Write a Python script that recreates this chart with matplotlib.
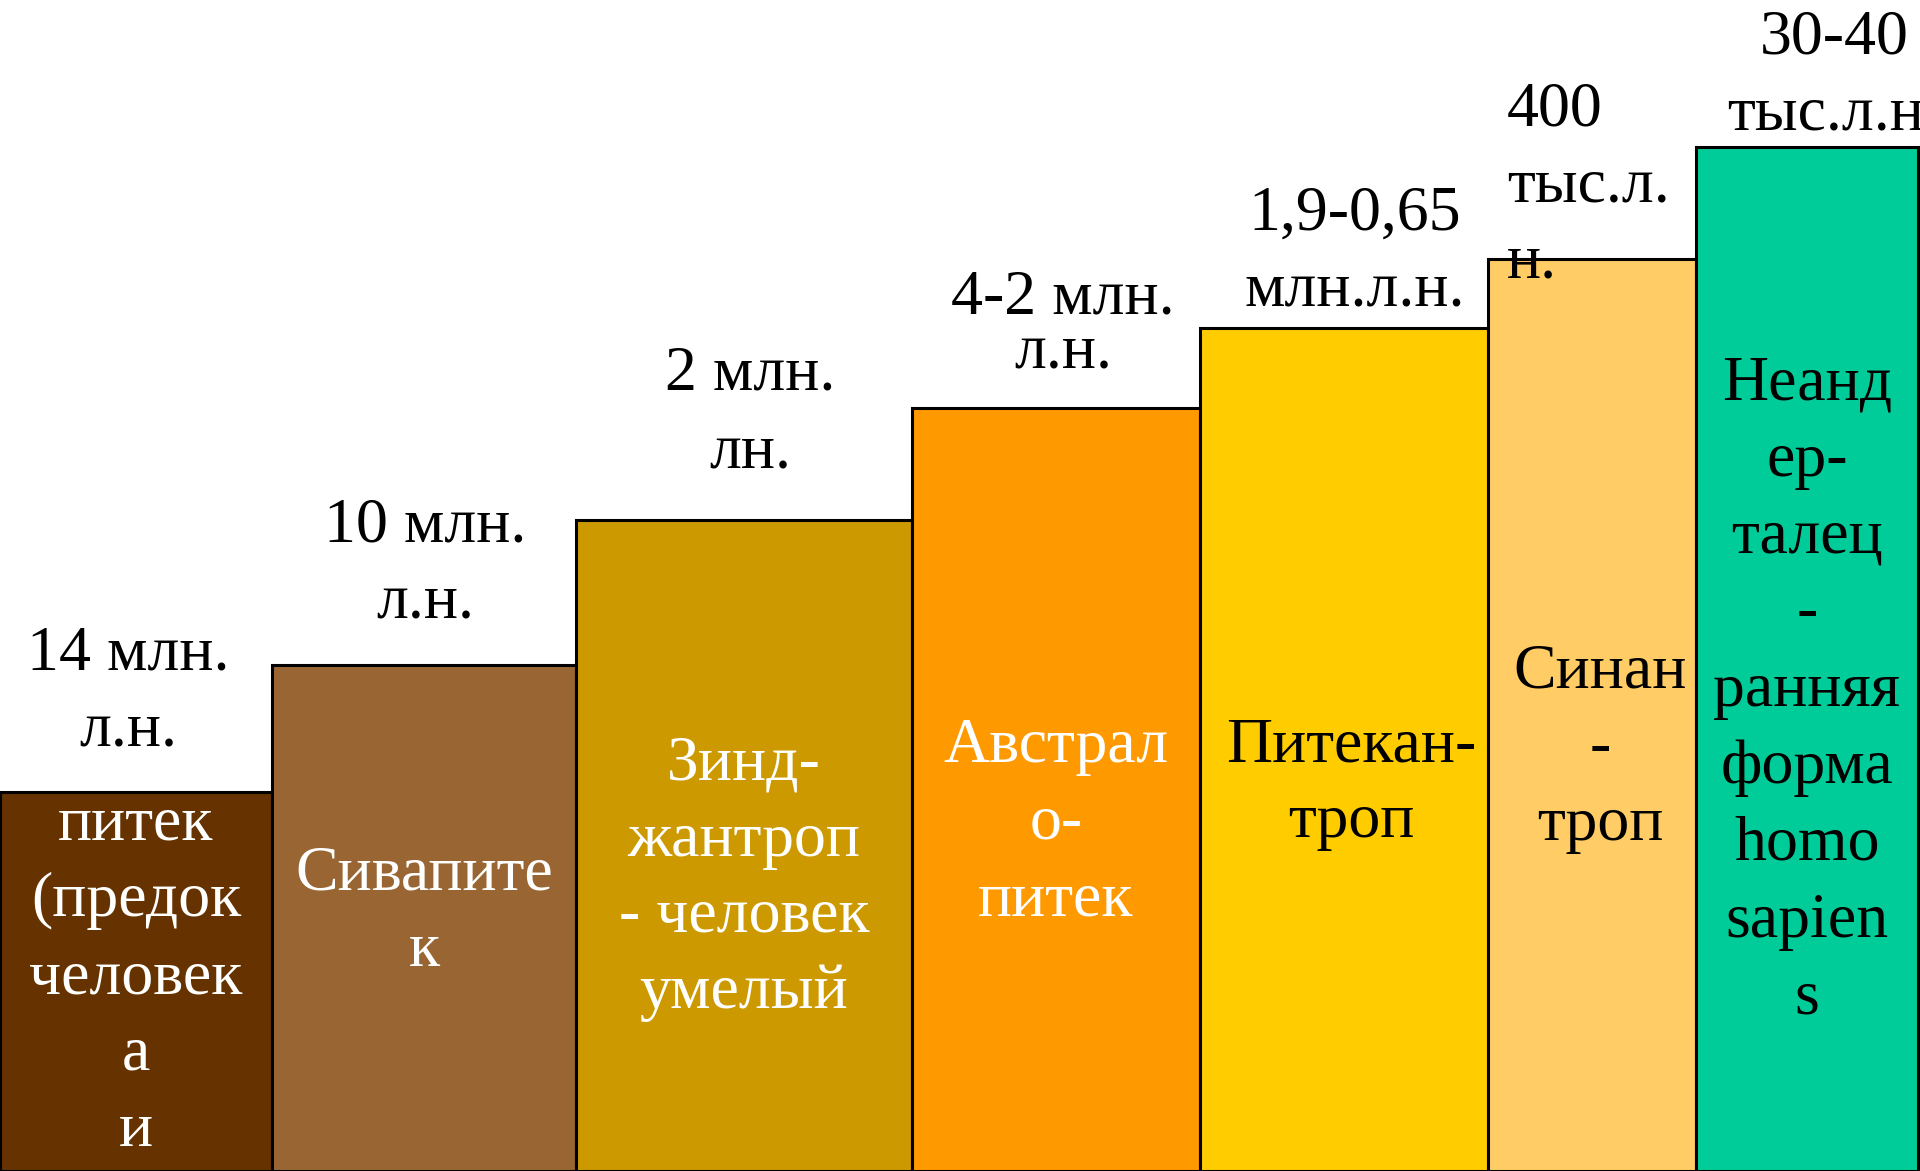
import matplotlib
matplotlib.use("Agg")
import matplotlib.pyplot as plt

# ---------------- data ----------------
species = ["Дриопитек", "Сивапитек", "Зинджантроп", "Австралопитек",
           "Питекантроп", "Синантроп", "Неандерталец"]
# step heights (arbitrary units)
heights = [379, 506, 651, 763, 843, 912, 1024]
# left edge and width of each step (arbitrary units)
left_edges = [0, 272, 576, 912, 1200, 1488, 1696]
widths = [272, 304, 336, 288, 288, 208, 222]
colors = ["#663300", "#996633", "#CC9900", "#FF9900", "#FFCC00", "#FFCC66", "#00CC99"]
age_labels = [
    ["14 млн.", "л.н."],
    ["10 млн.", "л.н."],
    ["2 млн.", "лн."],
    ["4-2 млн.", "л.н."],
    ["1,9-0,65", "млн.л.н."],
    ["400", "тыс.л.", "н."],
    ["30-40", "тыс.л.н."],
]
inner_labels = [
    ["питек", "(предок", "человек", "а", "и"],
    ["Сивапите", "к"],
    ["Зинд-", "жантроп", "- человек", "умелый"],
    ["Австрал", "о-", "питек"],
    ["Питекан-", "троп"],
    ["Синан", "-", "троп"],
    ["Неанд", "ер-", "талец", "-", "ранняя", "форма", "homo", "sapien", "s"],
]
inner_colors = ["white", "white", "white", "white", "black", "black", "black"]

# ---------------- layout (pixel positions from the top of the picture) ----------------
W, H = 1920, 1171
age_x = [128, 425, 750, 1063, 1355, 1507, 1834]
age_ha = ["center", "center", "center", "center", "center", "left", "center"]
age_y0 = [669, 542, 390, 313, 230, 125, 54]
age_step = [77, 75, 77, 55, 76, 76.5, 76]
inner_x = [136, 424, 744, 1056, 1351, 1600, 1807]
inner_y0 = [840, 889, 779, 762, 761, 688, 399]
inner_step = [76.5, 77, 76.5, 76.5, 76, 76, 76.8]

FONT = ["Liberation Serif", "DejaVu Serif"]
FS = 46

fig = plt.figure(figsize=(W / 100, H / 100), dpi=100)
fig.patch.set_facecolor("white")
pad = 4
ax = fig.add_axes([0, -pad / H, 1, 1 + pad / H])
ax.set_xlim(0, W)
ax.set_ylim(-pad, H)
ax.axis("off")

ax.bar(left_edges, heights, width=widths, align="edge", color=colors,
       edgecolor="black", linewidth=2.2, zorder=1)


def ypix(p):
    return H - p


for i in range(len(species)):
    for k, line in enumerate(age_labels[i]):
        ax.text(age_x[i], ypix(age_y0[i] + k * age_step[i]), line,
                ha=age_ha[i], va="baseline", fontsize=FS, family=FONT,
                color="black", zorder=3, clip_on=False)
    for k, line in enumerate(inner_labels[i]):
        ax.text(inner_x[i], ypix(inner_y0[i] + k * inner_step[i]), line,
                ha="center", va="baseline", fontsize=FS, family=FONT,
                color=inner_colors[i], zorder=3, clip_on=False)

fig.savefig("out.png", dpi=100, facecolor="white")
